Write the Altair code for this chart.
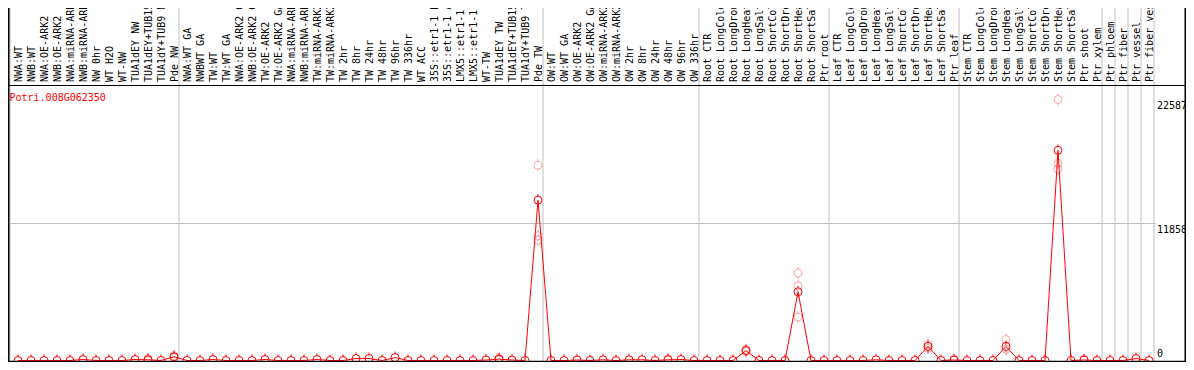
import altair as alt
import pandas as pd

# ---------------- data ----------------
categories = [
    "NWA:WT", "NWB:WT", "NWA:OE-ARK2", "NWB:OE-ARK2", "NWA:miRNA-ARK2", "NWB:miRNA-ARK2",
    "NW 0hr", "WT H2O", "WT-NW", "TUA1dEY NW", "TUA1dEY+TUB15 NW", "TUA1dY+TUB9 NW", "Pde NW",
    "NWA:WT GA", "NWBWT GA", "TW:WT", "TW:WT GA", "NWA:OE-ARK2 GA", "NWB:OE-ARK2 GA",
    "TW:OE-ARK2", "TW:OE-ARK2 GA", "NWA:miRNA-ARK2 GA", "NWB:miRNA-ARK2 GA", "TW:miRNA-ARK2",
    "TW:miRNA-ARK2 GA", "TW 2hr", "TW 8hr", "TW 24hr", "TW 48hr", "TW 96hr", "TW 336hr",
    "WT ACC", "35S::etr1-1 H2O", "35S::etr1-1 ACC", "LMX5::etr1-1 H2O", "LMX5::etr1-1 ACC",
    "WT-TW", "TUA1dEY TW", "TUA1dEY+TUB15 TW", "TUA1dY+TUB9 TW", "Pde TW",
    "OW:WT", "OW:WT GA", "OW:OE-ARK2", "OW:OE-ARK2 GA", "OW:miRNA-ARK2", "OW:miRNA-ARK2 GA",
    "OW 2hr", "OW 8hr", "OW 24hr", "OW 48hr", "OW 96hr", "OW 336hr",
    "Root CTR", "Root LongCold", "Root LongDrought", "Root LongHeat", "Root LongSalt",
    "Root ShortCold", "Root ShortDrought", "Root ShortHeat", "Root ShortSalt", "Ptr root",
    "Leaf CTR", "Leaf LongCold", "Leaf LongDrought", "Leaf LongHeat", "Leaf LongSalt",
    "Leaf ShortCold", "Leaf ShortDrought", "Leaf ShortHeat", "Leaf ShortSalt", "Ptr leaf",
    "Stem CTR", "Stem LongCold", "Stem LongDrought", "Stem LongHeat", "Stem LongSalt",
    "Stem ShortCold", "Stem ShortDrought", "Stem ShortHeat", "Stem ShortSalt", "Ptr shoot",
    "Ptr xylem", "Ptr phloem", "Ptr fiber", "Ptr vessel", "Ptr fiber vessel",
]
group_sizes = [13, 28, 12, 10, 10, 11, 1, 1, 1, 1]

mean_values = [
    0, 0, 0, 0, 0, 85, 0, 0, 0, 85, 60, 0, 320,
    0, 0, 85, 0, 0, 0, 85, 0, 0, 0, 85, 0, 0, 170, 170, 0, 250,
    0, 0, 0, 0, 0, 0, 40, 120, 40, 0, 13880,
    0, 0, 40, 0, 60, 0, 60, 60, 0, 60, 85, 0,
    0, 0, 0, 860, 0, 0, 0, 5950, 0, 0,
    0, 0, 0, 60, 0, 0, 0, 1220, 0, 40,
    0, 0, 0, 1220, 0, 0, 0, 18190, 0, 40, 0,
    0, 0, 170, 0,
]
rep_index = [10, 10, 12, 12, 37, 37, 40, 40, 40, 50, 56, 56, 60, 60, 60,
             70, 70, 72, 76, 76, 80, 80, 80, 82]
rep_values = [150, 0, 420, 250, 250, 60, 16900, 10790, 10420, 130, 950, 780,
              7575, 6460, 3760, 1400, 1050, 120, 1815, 970, 22587, 17070, 16570, 120]

gene_id = "Potri.008G062350"
y_tick_values = [0, 11858, 22587]
grid_values = [11858]

# ---------------- layout ----------------
W, H = 1178, 354
STEP = 13.0
x0 = -10.0 / STEP
x_scale = alt.Scale(domain=[x0, x0 + W / STEP], nice=False, zero=False)
y_scale = alt.Scale(domain=[-130, 30512], nice=False, zero=False)
RED = "#ff0000"
GRAY = "#c0c0c0"
FONT = "DejaVu Sans Mono"

n = len(categories)
df = pd.DataFrame({"idx": list(range(n)), "label": categories, "value": mean_values})
reps = pd.DataFrame({"idx": rep_index, "value": rep_values})

bounds = [0]
for g in group_sizes:
    bounds.append(bounds[-1] + g)
seps = pd.DataFrame({"pos": [b - 8.0 / STEP for b in bounds]})

label_x = n - 0.385
grid = pd.DataFrame({"value": grid_values, "xa": [-8.0 / STEP] * len(grid_values),
                     "xb": [label_x - 0.08] * len(grid_values)})
tick_labels = pd.DataFrame({"value": y_tick_values,
                            "text": [str(v) for v in y_tick_values],
                            "xpos": [label_x] * len(y_tick_values)})


def X(field):
    return alt.X(field, type="quantitative", scale=x_scale, axis=None)


def Y(field):
    return alt.Y(field, type="quantitative", scale=y_scale, axis=None)


sep_layer = alt.Chart(seps).mark_rule(color=GRAY, strokeWidth=1).encode(x=X("pos"))

grid_layer = alt.Chart(grid).mark_rule(color=GRAY, strokeWidth=1).encode(
    x=X("xa"), x2="xb", y=Y("value"))

tick_path = "M0,-1.5L0,-1M0,1L0,1.5"

rep_circles = alt.Chart(reps).mark_point(
    shape="circle", size=64, filled=False, color=RED, opacity=0.35, strokeWidth=1, clip=True
).encode(x=X("idx"), y=Y("value"))
rep_ticks = alt.Chart(reps).mark_point(
    shape=tick_path, size=64, filled=False, color=RED, opacity=0.35, strokeWidth=1, clip=True
).encode(x=X("idx"), y=Y("value"))

line_layer = alt.Chart(df).mark_line(color=RED, strokeWidth=1, clip=True).encode(
    x=X("idx"), y=Y("value"))

mean_circles = alt.Chart(df).mark_point(
    shape="circle", size=64, filled=False, color=RED, opacity=1, strokeWidth=1, clip=True
).encode(x=X("idx"), y=Y("value"))
mean_ticks = alt.Chart(df).mark_point(
    shape=tick_path, size=64, filled=False, color=RED, opacity=1, strokeWidth=1, clip=True
).encode(x=X("idx"), y=Y("value"))

cat_labels = alt.Chart(df).mark_text(
    angle=270, align="left", baseline="middle", font=FONT, fontSize=10,
    color="black", clip=True, dy=1
).encode(x=X("idx"), y=alt.value(74), text="label:N")

header_rule = alt.Chart(df.head(1)).mark_rule(color="black", strokeWidth=1).encode(
    x=alt.value(0), x2=alt.value(W), y=alt.value(77.5))
left_rule = alt.Chart(df.head(1)).mark_rule(color="black", strokeWidth=1.5).encode(
    x=alt.value(0.75), y=alt.value(0), y2=alt.value(H))
right_rule = alt.Chart(df.head(1)).mark_rule(color="black", strokeWidth=1.5).encode(
    x=alt.value(W - 0.75), y=alt.value(0), y2=alt.value(H))
bottom_rule = alt.Chart(df.head(1)).mark_rule(color="black", strokeWidth=1.2).encode(
    x=alt.value(0), x2=alt.value(W), y=alt.value(H - 0.6))

gene_text = alt.Chart(pd.DataFrame({"t": [gene_id]})).mark_text(
    align="left", baseline="alphabetic", font=FONT, fontSize=10, color=RED
).encode(x=alt.value(1.5), y=alt.value(93), text="t:N")

tick_top = alt.Chart(tick_labels[tick_labels["value"] > 0]).mark_text(
    align="left", baseline="top", font=FONT, fontSize=10, color="black", dy=1
).encode(x=X("xpos"), y=Y("value"), text="text:N")
tick_zero = alt.Chart(tick_labels[tick_labels["value"] == 0]).mark_text(
    align="left", baseline="bottom", font=FONT, fontSize=10, color="black", dy=-1
).encode(x=X("xpos"), y=Y("value"), text="text:N")

chart = alt.layer(
    sep_layer, grid_layer, rep_circles, rep_ticks, line_layer, mean_circles, mean_ticks,
    cat_labels, header_rule, left_rule, right_rule, bottom_rule, gene_text, tick_top, tick_zero,
).properties(
    width=W, height=H, padding=0, autosize=alt.AutoSizeParams(type="none"),
    background="white",
).configure_view(strokeWidth=0)

chart.save("out.html", embed_options={"renderer": "svg", "actions": False})
